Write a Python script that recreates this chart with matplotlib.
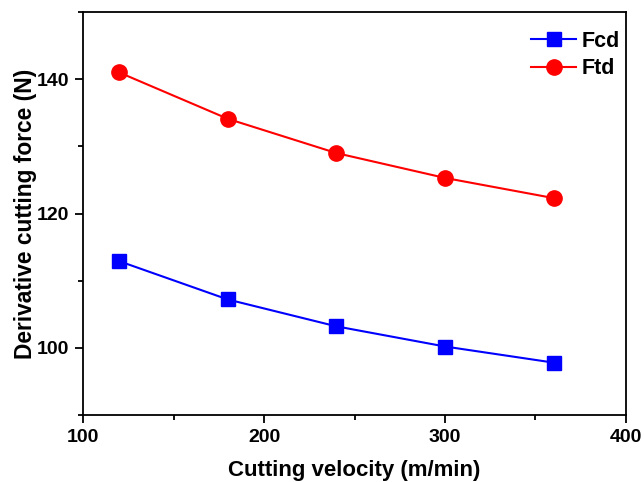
import matplotlib
matplotlib.use("Agg")
import matplotlib.pyplot as plt
from matplotlib.ticker import MultipleLocator

plt.rcParams["font.family"] = ["Liberation Sans", "DejaVu Sans"]
plt.rcParams["font.weight"] = "bold"

velocity = [120, 180, 240, 300, 360]
fcd = [112.9, 107.2, 103.2, 100.2, 97.8]
ftd = [141.0, 134.1, 129.0, 125.3, 122.3]

fig = plt.figure(figsize=(6.44, 4.82), dpi=100)
ax = fig.add_axes([0.129, 0.139, 0.843, 0.836])

ax.plot(velocity, fcd, color="#0000ff", marker="s", markersize=10, linewidth=1.5, label="Fcd")
ax.plot(velocity, ftd, color="#ff0000", marker="o", markersize=11, linewidth=1.5, label="Ftd")

ax.set_xlim(100, 400)
ax.set_ylim(90, 150)
ax.xaxis.set_major_locator(MultipleLocator(100))
ax.xaxis.set_minor_locator(MultipleLocator(50))
ax.yaxis.set_major_locator(MultipleLocator(20))
ax.yaxis.set_minor_locator(MultipleLocator(10))
ax.tick_params(which="major", direction="out", length=6, width=1.3, labelsize=14, pad=4)
ax.tick_params(which="minor", direction="out", length=3.5, width=1.3)
for label in ax.get_xticklabels() + ax.get_yticklabels():
    label.set_fontweight("bold")
for spine in ax.spines.values():
    spine.set_linewidth(1.3)

ax.set_xlabel("Cutting velocity (m/min)", fontsize=16, fontweight="bold", labelpad=10)
ax.set_ylabel("Derivative cutting force (N)", fontsize=16.4, fontweight="bold", labelpad=0)

leg = ax.legend(loc="upper right", bbox_to_anchor=(1.005, 0.975), frameon=False,
                fontsize=15.5, handlelength=2.1, handletextpad=0.25,
                borderaxespad=0.0, labelspacing=0.3)
for t in leg.get_texts():
    t.set_fontweight("bold")

fig.savefig("out.png", dpi=100)
